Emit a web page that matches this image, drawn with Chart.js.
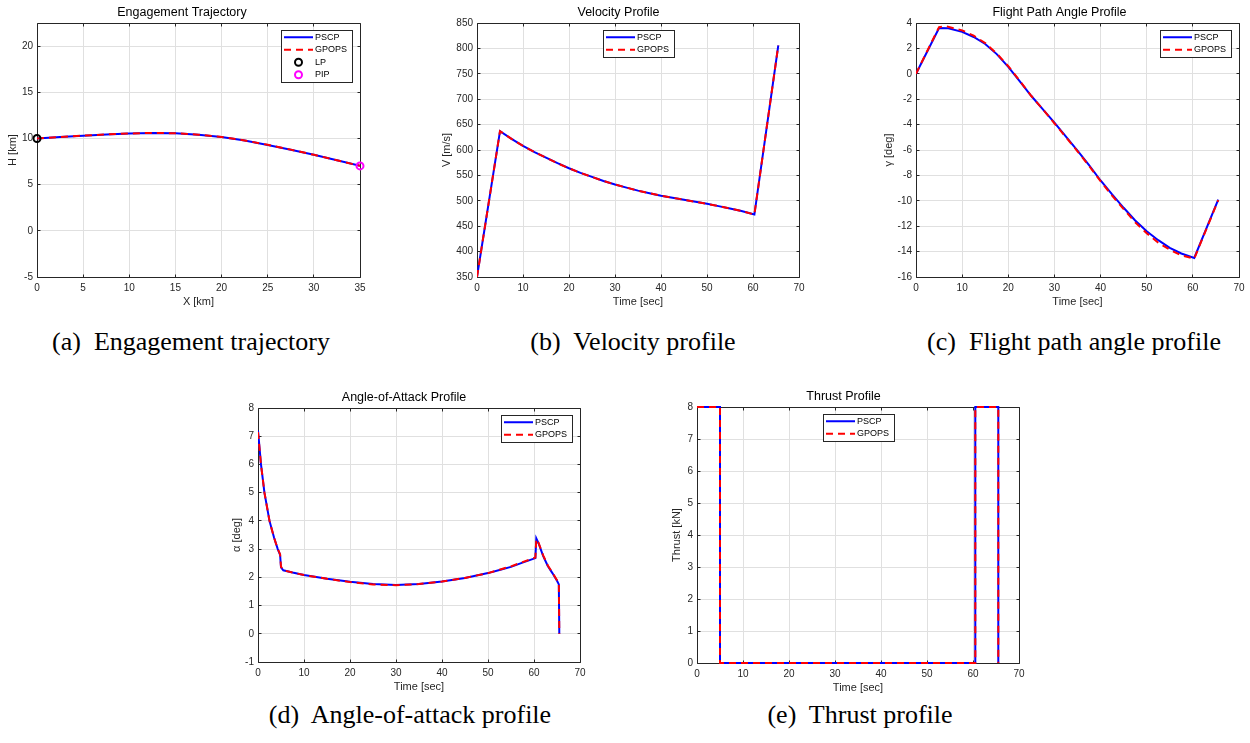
<!DOCTYPE html>
<html><head><meta charset="utf-8">
<script src="https://cdn.jsdelivr.net/npm/chart.js@4.4.1/dist/chart.umd.min.js"></script>
<style>
body{margin:0;background:#fff;width:1250px;height:743px;position:relative;overflow:hidden}
canvas{position:absolute}
.cap{position:absolute;width:420px;text-align:center;font:26px "Liberation Serif","Times New Roman",serif;line-height:30px;color:#000;white-space:pre}
</style></head><body>
<canvas id="pa"></canvas><canvas id="pb"></canvas><canvas id="pc"></canvas>
<canvas id="pd"></canvas><canvas id="pe"></canvas>
<div class="cap" style="left:-19px;top:327px">(a)  Engagement trajectory</div>
<div class="cap" style="left:423px;top:327px">(b)  Velocity profile</div>
<div class="cap" style="left:864px;top:327px">(c)  Flight path angle profile</div>
<div class="cap" style="left:200px;top:700px">(d)  Angle-of-attack profile</div>
<div class="cap" style="left:650px;top:700px">(e)  Thrust profile</div>
<script>
// ---- data ----
const trajX      = [0, 2.5, 5, 7.5, 10, 12.5, 15, 17.5, 20, 22.5, 25, 27.5, 30, 32.5, 35];
const trajPSCP   = [10.0, 10.16, 10.3, 10.43, 10.54, 10.6, 10.56, 10.4, 10.15, 9.78, 9.3, 8.78, 8.23, 7.64, 7.03];
const trajGPOPS  = [10.0, 10.16, 10.3, 10.43, 10.54, 10.6, 10.56, 10.41, 10.16, 9.79, 9.31, 8.79, 8.23, 7.64, 7.03];
const lpPoint    = [0, 10];
const pipPoint   = [35, 7.03];

const velT       = [0, 5, 7.5, 10, 12.5, 15, 17.5, 20, 22.5, 25, 27.5, 30, 32.5, 35, 37.5, 40, 42.5, 45, 47.5, 50, 52.5, 55, 57.5, 60.3, 65.5];
const velPSCP    = [350, 637, 622, 608, 596, 585, 574, 564, 555, 547, 539, 532, 526, 520, 515, 510, 506, 502, 498, 494, 489.5, 485, 480, 473, 806];
const velGPOPS   = [350, 637, 622, 608, 596, 585, 574, 564, 555, 547, 539, 532, 526, 520, 515, 510, 506, 502, 498, 494, 489.5, 485, 480, 473, 806];

const fpaT       = [0, 5, 7, 10, 12.5, 15, 17.5, 20, 22.5, 25, 27.5, 30, 32.5, 35, 37.5, 40, 42.5, 45, 47.5, 50, 52.5, 55, 57.5, 60.3, 65.5];
const fpaPSCP    = [0, 3.6, 3.58, 3.3, 2.9, 2.35, 1.55, 0.55, -0.6, -1.75, -2.8, -3.85, -4.95, -6.05, -7.2, -8.4, -9.5, -10.55, -11.55, -12.4, -13.1, -13.7, -14.15, -14.5, -9.9];
const fpaTG      = [0, 5, 6.5, 10, 12.5, 15, 17.5, 20, 22.5, 25, 27.5, 30, 32.5, 35, 37.5, 40, 42.5, 45, 47.5, 50, 52.5, 55, 57.5, 60.3, 65.5];
const fpaGPOPS   = [0, 3.68, 3.75, 3.42, 3.0, 2.42, 1.6, 0.6, -0.55, -1.75, -2.8, -3.9, -5.0, -6.1, -7.25, -8.45, -9.6, -10.65, -11.7, -12.55, -13.3, -13.85, -14.3, -14.55, -9.95];

const aoaT       = [0, 0.65, 1.4, 2.5, 3.5, 4.3, 4.8, 5.0, 5.5, 7.5, 10, 15, 20, 25, 30, 35, 40, 45, 50, 52.5, 55, 57.5, 60.3, 60.5, 61, 62, 63, 64, 65, 65.4, 65.5];
const aoaPSCP    = [7.2, 6.0, 5.0, 4.0, 3.4, 3.0, 2.8, 2.35, 2.25, 2.17, 2.08, 1.95, 1.84, 1.76, 1.73, 1.76, 1.85, 1.98, 2.15, 2.26, 2.37, 2.52, 2.68, 3.38, 3.2, 2.75, 2.4, 2.15, 1.88, 1.75, 0];
const aoaGPOPS   = [7.15, 6.0, 5.0, 4.0, 3.4, 3.0, 2.82, 2.38, 2.25, 2.17, 2.08, 1.95, 1.83, 1.75, 1.72, 1.76, 1.85, 1.98, 2.15, 2.27, 2.39, 2.54, 2.7, 3.35, 3.22, 2.78, 2.42, 2.17, 1.9, 1.76, 0];

const thrT       = [0, 5, 5, 60.5, 60.5, 65.5, 65.5];
const thrPSCP    = [8, 8, 0, 0, 8, 8, 0];
const thrGPOPS   = [8, 8, 0, 0, 8, 8, 0];

const kmTicks    = [0, 5, 10, 15, 20, 25, 30, 35];
const timeTicks  = [0, 10, 20, 30, 40, 50, 60, 70];
const hTicks     = [-5, 0, 5, 10, 15, 20];
const velTicks   = [350, 400, 450, 500, 550, 600, 650, 700, 750, 800, 850];
const fpaTicks   = [-16, -14, -12, -10, -8, -6, -4, -2, 0, 2, 4];
const aoaTicks   = [-1, 0, 1, 2, 3, 4, 5, 6, 7, 8];
const thrTicks   = [0, 1, 2, 3, 4, 5, 6, 7, 8];
const hRange     = [-5, 22.5];

Chart.defaults.font.family = '"Liberation Sans", Arial, sans-serif';
const INK = '#262626';

function pts(xs, ys){ return xs.map((x,i)=>({x, y: ys[i]})) }
function pscp(xs, ys, clip){ return {label:'PSCP', data:pts(xs,ys), showLine:true, pointRadius:0, borderColor:'#0000ff', borderWidth:2, order:2, clip} }
function gpops(xs, ys, clip){ return {label:'GPOPS', data:pts(xs,ys), showLine:true, pointRadius:0, borderColor:'#ff0000', borderWidth:2, borderDash:[7,5], order:1, clip} }
function marker(label, p, color){ return {label, data:[{x:p[0], y:p[1]}], showLine:false, pointRadius:3.5, pointBorderWidth:2, borderColor:color, backgroundColor:'rgba(0,0,0,0)', order:0, clip:false} }
function align(px){ return Math.round(px - 0.5) + 0.5 }

// MATLAB style box with inward ticks
const axesBox = {
  id:'axesBox',
  beforeDatasetsDraw(chart){
    const {ctx, chartArea:a, scales:{x, y}} = chart;
    const l = align(a.left), r = align(a.right), t = align(a.top), b = align(a.bottom);
    ctx.save(); ctx.strokeStyle = INK; ctx.lineWidth = 1; ctx.beginPath();
    ctx.rect(l, t, r-l, b-t);
    x.ticks.forEach(k=>{ const p = align(x.getPixelForValue(k.value)); ctx.moveTo(p,b); ctx.lineTo(p,b-3); ctx.moveTo(p,t); ctx.lineTo(p,t+3); });
    y.ticks.forEach(k=>{ const p = align(y.getPixelForValue(k.value)); ctx.moveTo(l,p); ctx.lineTo(l+3,p); ctx.moveTo(r,p); ctx.lineTo(r-3,p); });
    ctx.stroke(); ctx.restore();
  }
};

// boxed legend inside the axes
const boxLegend = {
  id:'boxLegend',
  afterDatasetsDraw(chart, args, opts){
    const {ctx, chartArea:a} = chart, items = chart.data.datasets;
    ctx.save(); ctx.font = '9px "Liberation Sans", Arial, sans-serif';
    const tw = Math.max(...items.map(d=>ctx.measureText(d.label).width));
    const w = Math.round(3 + 29 + 3 + tw + 4), rowH = 12.5, h = Math.round(items.length*rowH + 2);
    const x = Math.round(opts.align === 'center' ? (a.left + a.right)/2 - w/2 : a.right - 8 - w), y = Math.round(a.top + 7);
    ctx.fillStyle = '#fff'; ctx.fillRect(x, y, w, h);
    ctx.strokeStyle = INK; ctx.lineWidth = 1; ctx.strokeRect(x+0.5, y+0.5, w, h);
    items.forEach((d,i)=>{
      const cy = y + 1 + rowH*i + rowH/2;
      ctx.strokeStyle = d.borderColor; ctx.lineWidth = 2;
      if (d.showLine === false) { ctx.setLineDash([]); ctx.beginPath(); ctx.arc(x+17.5, cy, 3.5, 0, Math.PI*2); ctx.stroke(); }
      else { ctx.setLineDash(d.borderDash || []); ctx.beginPath(); ctx.moveTo(x+3, cy); ctx.lineTo(x+32, cy); ctx.stroke(); }
      ctx.setLineDash([]); ctx.fillStyle = '#000'; ctx.textBaseline = 'middle'; ctx.textAlign = 'left';
      ctx.fillText(d.label, x+34, cy);
    });
    ctx.restore();
  }
};

function axis(range, ticks, title, isX, size){
  return {
    type:'linear', min:range[0], max:range[1],
    afterBuildTicks:s=>{ s.ticks = ticks.map(v=>({value:v})) },
    afterFit: isX ? s=>{ s.height = size } : s=>{ s.width = size },
    grid:{color:'#e0e0e0', drawTicks:false}, border:{display:false},
    ticks:{color:INK, font:{size:10}, padding: isX ? 5 : 4, maxRotation:0, autoSkip:false, callback:v=>String(v)},
    title:{display:true, text:title, color:INK, font:{size:11}, padding: isX ? {top:0, bottom:2} : {top:2, bottom:0}}
  };
}

function panel(id, g, o){
  const cv = document.getElementById(id);
  const left = Math.round(g.labelX - 8.6), yW = g.L - left, top = g.T - 24;
  cv.width = g.R - g.L + 2*yW; cv.height = g.B + 34 - top;
  cv.style.left = left + 'px'; cv.style.top = top + 'px';
  return new Chart(cv, {
    type:'scatter',
    data:{datasets:o.datasets},
    options:{
      responsive:false, animation:false, devicePixelRatio:1,
      layout:{padding:{left:0, right:yW, top:0, bottom:0}},
      plugins:{
        legend:{display:false}, tooltip:{enabled:false},
        title:{display:true, text:o.title, color:'#000', font:{size:12.5, weight:'normal', lineHeight:1.2}, padding:{top:5.7, bottom:3.3}},
        boxLegend:{align:o.legend}
      },
      scales:{ x: axis(o.xRange, o.xTicks, o.xTitle, true, 34), y: axis(o.yRange, o.yTicks, o.yTitle, false, yW) }
    },
    plugins:[axesBox, boxLegend]
  });
}

panel('pa', {L:37, R:360, T:23, B:277, labelX:13}, {
  title:'Engagement Trajectory', xTitle:'X [km]', yTitle:'H [km]',
  xRange:[kmTicks[0], kmTicks[kmTicks.length-1]], xTicks:kmTicks, yRange:hRange, yTicks:hTicks, legend:'right',
  datasets:[pscp(trajX, trajPSCP), gpops(trajX, trajGPOPS), marker('LP', lpPoint, '#000000'), marker('PIP', pipPoint, '#ff00ff')]
});
panel('pb', {L:477, R:799, T:23, B:277, labelX:447}, {
  title:'Velocity Profile', xTitle:'Time [sec]', yTitle:'V [m/s]',
  xRange:[0, 70], xTicks:timeTicks, yRange:[350, 850], yTicks:velTicks, legend:'center',
  datasets:[pscp(velT, velPSCP), gpops(velT, velGPOPS)]
});
panel('pc', {L:916, R:1239, T:23, B:277, labelX:889}, {
  title:'Flight Path Angle Profile', xTitle:'Time [sec]', yTitle:'\u03b3 [deg]',
  xRange:[0, 70], xTicks:timeTicks, yRange:[-16, 4], yTicks:fpaTicks, legend:'right',
  datasets:[pscp(fpaT, fpaPSCP), gpops(fpaTG, fpaGPOPS)]
});
panel('pd', {L:258, R:580, T:408, B:662, labelX:237}, {
  title:'Angle-of-Attack Profile', xTitle:'Time [sec]', yTitle:'\u03b1 [deg]',
  xRange:[0, 70], xTicks:timeTicks, yRange:[-1, 8], yTicks:aoaTicks, legend:'right',
  datasets:[pscp(aoaT, aoaPSCP), gpops(aoaT, aoaGPOPS)]
});
panel('pe', {L:697, R:1019, T:407, B:663, labelX:677}, {
  title:'Thrust Profile', xTitle:'Time [sec]', yTitle:'Thrust [kN]',
  xRange:[0, 70], xTicks:timeTicks, yRange:[0, 8], yTicks:thrTicks, legend:'center',
  datasets:[pscp(thrT, thrPSCP, false), gpops(thrT, thrGPOPS, false)]
});
</script>
</body></html>
